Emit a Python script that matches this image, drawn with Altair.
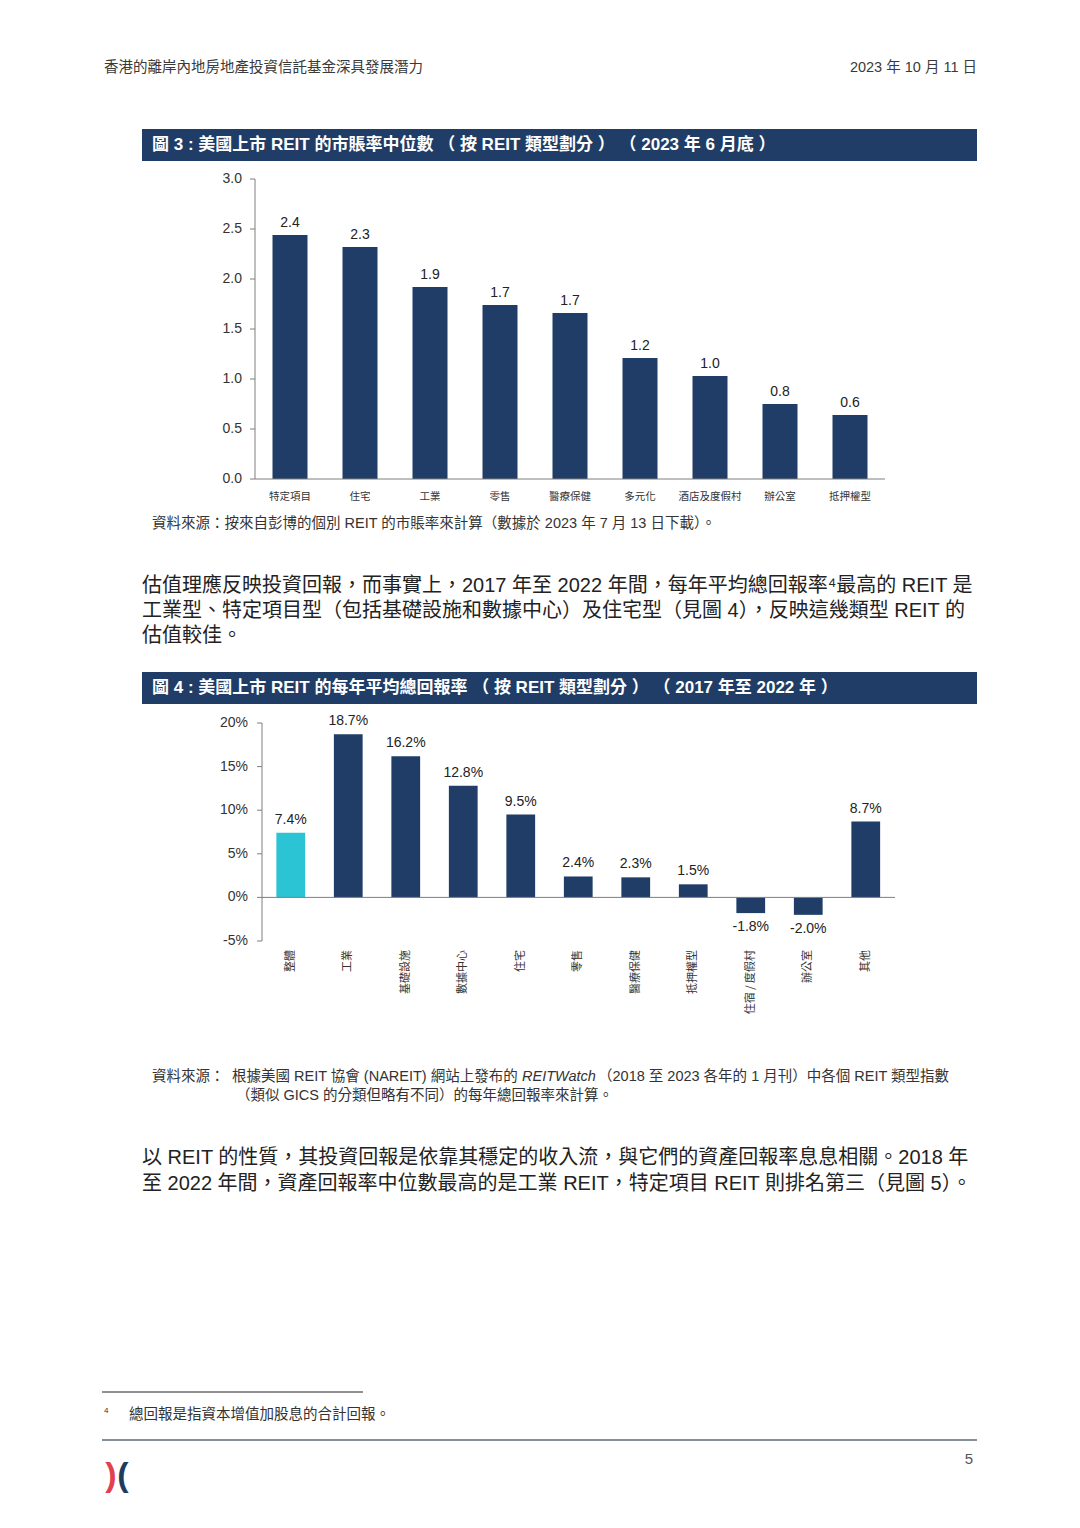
import altair as alt
import pandas as pd

W, H = 1064, 1512
FONT = "Liberation Sans, Noto Sans CJK TC"
CJK = "Noto Sans CJK TC, Liberation Sans"
NAVY = "#1f3d66"
BAR = "#1f3d67"
CYAN = "#2ac4d4"
AX = "#7f7f7f"
TXT = "#333333"

# ---------------- Figure 3 data ----------------
cats3 = ["特定項目", "住宅", "工業", "零售", "醫療保健", "多元化", "酒店及度假村", "辦公室", "抵押權型"]
vals3 = [2.44, 2.32, 1.92, 1.74, 1.66, 1.21, 1.03, 0.75, 0.64]
labs3 = ["2.4", "2.3", "1.9", "1.7", "1.7", "1.2", "1.0", "0.8", "0.6"]
ticks3 = [0, 0.5, 1.0, 1.5, 2.0, 2.5, 3.0]
ticklabs3 = ["0.0", "0.5", "1.0", "1.5", "2.0", "2.5", "3.0"]

# ---------------- Figure 4 data ----------------
cats4 = ["整體", "工業", "基礎設施", "數據中心", "住宅", "零售", "醫療保健", "抵押權型",
         "住宿 / 度假村", "辦公室", "其他"]
vals4 = [7.4, 18.7, 16.2, 12.8, 9.5, 2.4, 2.3, 1.5, -1.8, -2.0, 8.7]
labs4 = ["7.4%", "18.7%", "16.2%", "12.8%", "9.5%", "2.4%", "2.3%", "1.5%", "-1.8%", "-2.0%", "8.7%"]
groups4 = ["整體"] + ["類型"] * 10
ticks4 = [-5, 0, 5, 10, 15, 20]
ticklabs4 = ["-5%", "0%", "5%", "10%", "15%", "20%"]

# ---------------- page texts ----------------
header_left = "香港的離岸內地房地產投資信託基金深具發展潛力"
header_right = "2023 年 10 月 11 日"
title3 = "圖 3 : 美國上市 REIT 的市賬率中位數 （ 按 REIT 類型劃分 ） （ 2023 年 6 月底 ）"
source3 = "資料來源：按來自彭博的個別 REIT 的市賬率來計算（數據於 2023 年 7 月 13 日下載）。"
para1 = [
    "估值理應反映投資回報，而事實上，2017 年至 2022 年間，每年平均總回報率⁴最高的 REIT 是",
    "工業型、特定項目型（包括基礎設施和數據中心）及住宅型（見圖 4），反映這幾類型 REIT 的",
    "估值較佳。",
]
title4 = "圖 4 : 美國上市 REIT 的每年平均總回報率 （ 按 REIT 類型劃分 ） （ 2017 年至 2022 年 ）"
source4_a = "資料來源："
source4_b = "根據美國 REIT 協會 (NAREIT) 網站上發布的"
source4_c = "REITWatch"
source4_d = "（2018 至 2023 各年的 1 月刊）中各個 REIT 類型指數"
source4_e = "（類似 GICS 的分類但略有不同）的每年總回報率來計算。"
para2 = [
    "以 REIT 的性質，其投資回報是依靠其穩定的收入流，與它們的資產回報率息息相關。2018 年",
    "至 2022 年間，資產回報率中位數最高的是工業 REIT，特定項目 REIT 則排名第三（見圖 5）。",
]
footnote = "總回報是指資本增值加股息的合計回報。"

one = alt.Data(values=[{}])


def txt(s, x, y, size=13, color=TXT, align="left", weight="normal", font=FONT, style="normal"):
    return alt.Chart(one).mark_text(
        align=align, baseline="middle", fontSize=size, color=color,
        fontWeight=weight, font=font, fontStyle=style
    ).encode(x=alt.value(x), y=alt.value(y), text=alt.value(s))


def rect(x1, x2, y1, y2, color):
    return alt.Chart(one).mark_rect(color=color).encode(
        x=alt.value(x1), x2=alt.value(x2), y=alt.value(y1), y2=alt.value(y2))


def hrule(x1, x2, y, color, w=1):
    return alt.Chart(one).mark_rule(color=color, strokeWidth=w).encode(
        x=alt.value(x1), x2=alt.value(x2), y=alt.value(y))


# ---------------- Figure 3 chart ----------------
df3 = pd.DataFrame({"cat3": cats3, "val3": vals3, "lab3": labs3})
t3 = pd.DataFrame({"val3": ticks3, "tl3": ticklabs3})
xs3 = alt.Scale(range=[247, 877], paddingInner=0.5, paddingOuter=0.25)
ys3 = alt.Scale(domain=[0, 3], range=[471, 171], nice=False)
X3 = alt.X("cat3:N", sort=cats3, scale=xs3, axis=None)
Y3 = alt.Y("val3:Q", scale=ys3, axis=None)

bars3 = alt.Chart(df3).mark_bar(color=BAR).encode(x=X3, y=Y3)
lbl3 = alt.Chart(df3).mark_text(baseline="middle", dy=-12, fontSize=14, font=FONT,
                                color="#222222").encode(x=X3, y=Y3, text="lab3:N")
ydom3 = alt.Chart(pd.DataFrame({"val3": [0], "top3": [3]})).mark_rule(color=AX).encode(
    x=alt.value(247), y=Y3, y2="top3:Q")
xdom3 = alt.Chart(pd.DataFrame({"val3": [0]})).mark_rule(color=AX).encode(
    x=alt.value(247), x2=alt.value(877), y=Y3)
ytick3 = alt.Chart(t3).mark_rule(color=AX).encode(x=alt.value(242), x2=alt.value(247), y=Y3)
ylab3 = alt.Chart(t3).mark_text(align="right", baseline="middle", fontSize=14, font=FONT,
                                color=TXT).encode(x=alt.value(234), y=Y3, text="tl3:N")
xlab3 = alt.Chart(df3).mark_text(align="center", baseline="middle", fontSize=10.5, font=CJK,
                                 color=TXT).encode(x=X3, y=alt.value(489), text="cat3:N")
chart3 = alt.layer(bars3, ydom3, xdom3, ytick3, ylab3, xlab3, lbl3)

# ---------------- Figure 4 chart ----------------
df4 = pd.DataFrame({"cat4": cats4, "val4": vals4, "lab4": labs4, "grp": groups4})
t4 = pd.DataFrame({"val4": ticks4, "tl4": ticklabs4})
xs4 = alt.Scale(range=[254, 886.5], paddingInner=0.5, paddingOuter=0.25)
ys4 = alt.Scale(domain=[-5, 20], range=[933, 715], nice=False)
X4 = alt.X("cat4:N", sort=cats4, scale=xs4, axis=None)
Y4 = alt.Y("val4:Q", scale=ys4, axis=None)

bars4 = alt.Chart(df4).mark_bar().encode(
    x=X4, y=Y4,
    color=alt.Color("grp:N", scale=alt.Scale(domain=["整體", "類型"], range=[CYAN, BAR]),
                    legend=None))
pos4 = alt.Chart(df4).transform_filter("datum.val4 >= 0").mark_text(
    baseline="middle", dy=-13, fontSize=14, font=FONT, color="#222222").encode(
    x=X4, y=Y4, text="lab4:N")
neg4 = alt.Chart(df4).transform_filter("datum.val4 < 0").mark_text(
    baseline="middle", dy=14, fontSize=14, font=FONT, color="#222222").encode(
    x=X4, y=Y4, text="lab4:N")
zero4 = alt.Chart(pd.DataFrame({"val4": [0]})).mark_rule(color=AX, strokeWidth=1).encode(
    y=Y4, x=alt.value(254), x2=alt.value(887))
ydom4 = alt.Chart(pd.DataFrame({"val4": [-5], "top4": [20]})).mark_rule(color=AX).encode(
    x=alt.value(254), y=Y4, y2="top4:Q")
ytick4 = alt.Chart(t4).mark_rule(color=AX).encode(x=alt.value(249), x2=alt.value(254), y=Y4)
ylab4 = alt.Chart(t4).mark_text(align="right", baseline="middle", fontSize=14, font=FONT,
                                color=TXT).encode(x=alt.value(240), y=Y4, text="tl4:N")
xlab4 = alt.Chart(df4).mark_text(align="right", baseline="middle", angle=270, fontSize=11,
                                 font=CJK, color=TXT).encode(
    x=X4, y=alt.value(942), text="cat4:N")
chart4 = alt.layer(bars4, zero4, ydom4, ytick4, ylab4, xlab4, pos4, neg4)

# ---------------- decorations ----------------
deco = [
    txt(header_left, 96, 60, size=14.5, color="#3a3a3a", font=CJK),
    txt(header_right, 969, 60, size=14.5, color="#3a3a3a", align="right"),
    rect(134, 969, 121, 153, NAVY),
    txt(title3, 144, 137, size=17, color="white", weight="bold"),
    txt(source3, 144, 516, size=14.5),
]
for i, line in enumerate(para1):
    deco.append(txt(line, 134, 578 + 25 * i, size=20, color="#222222"))
deco += [
    rect(134, 969, 664, 696, NAVY),
    txt(title4, 144, 680, size=17, color="white", weight="bold"),
    txt(source4_a, 144, 1069, size=14.5),
    txt(source4_b, 224, 1069, size=14.5),
    txt(source4_c, 514, 1069, size=14.5, style="italic"),
    txt(source4_d, 590, 1069, size=14.5),
    txt(source4_e, 228, 1088, size=14.5),
]
for i, line in enumerate(para2):
    deco.append(txt(line, 134, 1150 + 26 * i, size=20, color="#222222"))
deco += [
    hrule(94, 355, 1384, "#222222", 1),
    txt("4", 96, 1403, size=8),
    txt(footnote, 121, 1407, size=14.5, font=CJK),
    hrule(94, 969, 1432, "#5d6b7a", 1.5),
    txt("5", 961, 1451, size=15, color="#555555", align="center"),
    txt(")", 103, 1468, size=34, color="#e2404f", weight="bold", align="center"),
    txt("(", 115, 1468, size=34, color="#1d3c5e", weight="bold", align="center"),
]

chart = alt.layer(*deco, chart3, chart4).resolve_scale(
    x="independent", y="independent"
).properties(
    width=W, height=H, padding=0, background="white",
    autosize=alt.AutoSizeParams(type="none")
).configure_view(strokeWidth=0, stroke="transparent")

chart.save("out.html", embed_options={"renderer": "svg", "actions": False})
